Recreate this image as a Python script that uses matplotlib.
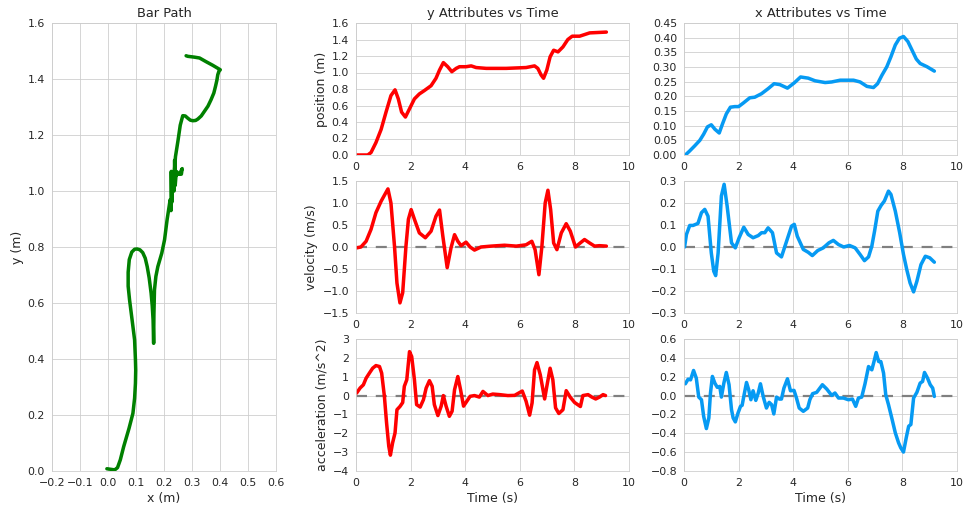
import numpy as np
import matplotlib
matplotlib.use("Agg")
import matplotlib.pyplot as plt
import seaborn as sns

# ---- y attributes (red) ----
t_ypos = [0.0, 0.43, 0.55, 0.73, 0.92, 1.10, 1.28, 1.43, 1.55, 1.67, 1.81, 1.96, 2.14, 2.32,
          2.50, 2.75, 2.93, 3.06, 3.20, 3.36, 3.51, 3.67, 3.79, 4.03, 4.22, 4.40, 4.77, 5.50,
          6.23, 6.54, 6.66, 6.78, 6.87, 6.99, 7.11, 7.24, 7.40, 7.58, 7.76, 7.92, 8.19, 8.56, 9.17]
y_pos = [0.0, 0.0, 0.03, 0.15, 0.31, 0.52, 0.72, 0.79, 0.68, 0.52, 0.46, 0.56, 0.68, 0.74,
         0.78, 0.84, 0.93, 1.03, 1.12, 1.07, 1.01, 1.05, 1.07, 1.07, 1.08, 1.06, 1.05, 1.05,
         1.06, 1.08, 1.05, 0.97, 0.93, 1.03, 1.19, 1.27, 1.25, 1.31, 1.40, 1.44, 1.44, 1.48, 1.49]

t_yvel = [0.02, 0.18, 0.37, 0.55, 0.73, 0.92, 1.08, 1.17, 1.28, 1.41, 1.50, 1.61, 1.71, 1.83,
          1.92, 2.02, 2.14, 2.32, 2.54, 2.75, 2.93, 3.06, 3.18, 3.34, 3.48, 3.61, 3.73, 3.85,
          4.03, 4.18, 4.34, 4.58, 4.95, 5.44, 5.87, 6.23, 6.44, 6.56, 6.70, 6.81, 6.93, 7.03,
          7.13, 7.24, 7.36, 7.52, 7.70, 7.85, 8.04, 8.19, 8.37, 8.56, 8.74, 8.92, 9.17]
y_vel = [-0.02, 0.0, 0.13, 0.40, 0.78, 1.04, 1.22, 1.32, 1.0, 0.02, -0.82, -1.27, -1.04, 0.02,
         0.63, 0.85, 0.63, 0.32, 0.21, 0.36, 0.70, 0.84, 0.25, -0.47, -0.02, 0.28, 0.13, 0.03,
         0.11, 0.0, -0.07, 0.0, 0.02, 0.04, 0.02, 0.05, 0.13, -0.06, -0.63, 0.02, 1.0, 1.29,
         0.85, 0.09, -0.06, 0.32, 0.53, 0.36, 0.0, 0.08, 0.17, 0.09, 0.02, 0.03, 0.02]

t_yacc = [0.02, 0.15, 0.27, 0.37, 0.49, 0.61, 0.73, 0.86, 0.94, 1.04, 1.12, 1.20, 1.26, 1.34,
          1.43, 1.50, 1.61, 1.71, 1.77, 1.86, 1.96, 2.04, 2.14, 2.22, 2.35, 2.47, 2.57, 2.69,
          2.79, 2.87, 3.00, 3.12, 3.20, 3.30, 3.42, 3.52, 3.61, 3.73, 3.83, 3.94, 4.06, 4.18,
          4.34, 4.52, 4.65, 4.83, 5.01, 5.26, 5.56, 5.81, 6.09, 6.23, 6.36, 6.45, 6.54, 6.63,
          6.75, 6.91, 6.99, 7.11, 7.21, 7.31, 7.43, 7.58, 7.70, 7.85, 8.01, 8.22, 8.31, 8.50,
          8.64, 8.78, 8.92, 9.05, 9.14]
y_acc = [0.13, 0.40, 0.57, 0.92, 1.19, 1.45, 1.59, 1.54, 1.19, -0.04, -1.45, -2.68, -3.16, -2.51,
         -1.98, -0.75, -0.58, -0.37, 0.49, 0.84, 2.33, 2.07, 0.84, -0.48, -0.61, -0.22, 0.40, 0.79,
         0.49, -0.48, -1.06, -0.56, 0.0, -0.56, -1.10, -0.83, 0.31, 1.01, 0.31, -0.56, -0.30, -0.04,
         0.0, -0.08, 0.22, 0.0, 0.08, 0.05, 0.0, 0.01, 0.24, -0.30, -1.04, -0.39, 1.36, 1.75,
         1.10, -0.18, 0.49, 1.45, 0.84, -0.65, -0.95, -0.75, 0.26, -0.09, -0.37, -0.58, 0.0, 0.05,
         -0.08, -0.18, -0.08, 0.05, 0.0]

# ---- x attributes (blue) ----
t_xpos = [0.05, 0.21, 0.39, 0.58, 0.72, 0.86, 1.00, 1.13, 1.29, 1.41, 1.55, 1.70, 1.86, 2.00,
          2.17, 2.41, 2.59, 2.84, 3.08, 3.30, 3.51, 3.79, 4.04, 4.27, 4.55, 4.80, 5.17, 5.41,
          5.72, 6.21, 6.45, 6.70, 6.94, 7.09, 7.25, 7.43, 7.58, 7.74, 7.89, 8.04, 8.20, 8.35,
          8.51, 8.65, 8.90, 9.17]
x_pos = [0.0, 0.014, 0.031, 0.050, 0.071, 0.096, 0.103, 0.088, 0.075, 0.106, 0.140, 0.163, 0.165, 0.165,
         0.177, 0.195, 0.197, 0.209, 0.226, 0.243, 0.240, 0.228, 0.246, 0.266, 0.262, 0.253, 0.247, 0.249,
         0.255, 0.255, 0.249, 0.234, 0.230, 0.243, 0.272, 0.301, 0.335, 0.375, 0.398, 0.404, 0.387, 0.358,
         0.327, 0.312, 0.301, 0.286]

t_xvel = [0.02, 0.09, 0.21, 0.33, 0.51, 0.64, 0.76, 0.88, 1.00, 1.09, 1.16, 1.25, 1.37, 1.47,
          1.58, 1.74, 1.88, 2.02, 2.19, 2.35, 2.53, 2.72, 2.84, 2.96, 3.08, 3.24, 3.39, 3.57,
          3.76, 3.94, 4.04, 4.15, 4.37, 4.55, 4.70, 4.90, 5.10, 5.31, 5.47, 5.66, 5.85, 6.06,
          6.27, 6.45, 6.61, 6.76, 6.88, 6.98, 7.10, 7.22, 7.34, 7.49, 7.58, 7.74, 7.90, 8.04,
          8.16, 8.28, 8.41, 8.53, 8.68, 8.84, 9.00, 9.17]
x_vel = [0.0, 0.057, 0.098, 0.098, 0.107, 0.156, 0.171, 0.140, -0.027, -0.110, -0.130, -0.027, 0.232, 0.285,
         0.186, 0.019, -0.004, 0.042, 0.090, 0.057, 0.042, 0.052, 0.065, 0.065, 0.087, 0.065, -0.027, -0.045,
         0.027, 0.095, 0.103, 0.049, -0.011, -0.024, -0.039, -0.016, -0.004, 0.019, 0.030, 0.011, 0.0, 0.007,
         -0.004, -0.034, -0.062, -0.045, 0.004, 0.072, 0.163, 0.189, 0.209, 0.254, 0.239, 0.163, 0.065, -0.034,
         -0.103, -0.163, -0.204, -0.156, -0.080, -0.042, -0.049, -0.069]

t_xacc = [0.05, 0.15, 0.24, 0.35, 0.45, 0.54, 0.64, 0.72, 0.82, 0.91, 0.97, 1.04, 1.13, 1.22,
          1.31, 1.37, 1.46, 1.55, 1.65, 1.74, 1.80, 1.88, 1.98, 2.07, 2.13, 2.19, 2.29, 2.37,
          2.45, 2.53, 2.63, 2.72, 2.80, 2.90, 3.02, 3.12, 3.21, 3.29, 3.39, 3.49, 3.57, 3.66,
          3.79, 3.90, 4.03, 4.12, 4.22, 4.37, 4.53, 4.61, 4.71, 4.86, 5.07, 5.23, 5.41, 5.53,
          5.66, 5.84, 6.02, 6.17, 6.29, 6.39, 6.51, 6.63, 6.76, 6.88, 6.96, 7.04, 7.13, 7.21,
          7.31, 7.39, 7.49, 7.61, 7.74, 7.86, 7.94, 8.04, 8.14, 8.23, 8.31, 8.41, 8.53, 8.65,
          8.74, 8.81, 8.92, 9.02, 9.11, 9.17]
x_acc = [0.125, 0.174, 0.167, 0.266, 0.185, -0.016, -0.044, -0.220, -0.350, -0.237, 0.027, 0.203, 0.132, 0.087,
         0.097, -0.016, 0.132, 0.245, 0.115, -0.149, -0.237, -0.279, -0.184, -0.114, -0.103, -0.009, 0.139, 0.062,
         -0.044, 0.051, -0.051, 0.027, 0.125, -0.009, -0.132, -0.072, -0.097, -0.195, -0.016, -0.037, -0.037, 0.079,
         0.178, 0.051, 0.055, -0.026, -0.132, -0.167, -0.132, -0.044, 0.020, 0.034, 0.115, 0.069, 0.002, 0.027,
         -0.026, -0.026, -0.044, -0.037, -0.114, -0.026, -0.016, 0.125, 0.308, 0.273, 0.361, 0.456, 0.361, 0.361,
         0.238, 0.009, -0.096, -0.237, -0.395, -0.501, -0.554, -0.599, -0.448, -0.325, -0.307, -0.026, 0.034, 0.132,
         0.150, 0.245, 0.185, 0.115, 0.079, -0.009]

# ---- bar path (green) ----
path_x = [-0.004, 0.024, 0.034, 0.044, 0.056, 0.075, 0.089, 0.095, 0.098, 0.099, 0.098, 0.095, 0.086,
          0.077, 0.072, 0.072, 0.076, 0.085, 0.095, 0.104, 0.114, 0.124, 0.133, 0.140, 0.147, 0.154,
          0.158, 0.161, 0.163, 0.164, 0.166, 0.171, 0.178, 0.192, 0.202, 0.211, 0.222,
          0.225, 0.226, 0.228, 0.232, 0.236, 0.238, 0.240, 0.244, 0.255, 0.265, 0.262, 0.248, 0.236,
          0.241, 0.250, 0.258, 0.267, 0.276, 0.285, 0.294, 0.303, 0.313, 0.321, 0.333, 0.344, 0.357,
          0.368, 0.378, 0.384, 0.389, 0.392, 0.396, 0.401, 0.374, 0.350, 0.327, 0.309, 0.285, 0.279]
path_y = [0.008, 0.004, 0.012, 0.040, 0.087, 0.152, 0.206, 0.260, 0.313, 0.360, 0.397, 0.468, 0.540,
          0.611, 0.660, 0.710, 0.755, 0.782, 0.792, 0.793, 0.790, 0.780, 0.760, 0.730, 0.690, 0.635,
          0.590, 0.540, 0.456, 0.560, 0.647, 0.695, 0.730, 0.778, 0.826, 0.897, 0.969,
          0.930, 1.070, 0.960, 1.060, 1.000, 1.110, 1.020, 1.070, 1.060, 1.080, 1.060, 1.060, 1.050,
          1.123, 1.180, 1.235, 1.269, 1.268, 1.260, 1.253, 1.251, 1.252, 1.257, 1.268, 1.284, 1.303,
          1.326, 1.350, 1.374, 1.396, 1.415, 1.427, 1.433, 1.449, 1.462, 1.475, 1.478, 1.481, 1.483]

RED = "#FF0000"
BLUE = "#069AF3"
GREEN = "#008000"

sns.set_style("whitegrid")
plt.rcParams.update({
    "font.size": 11,
    "axes.titlesize": 13,
    "axes.labelsize": 12.5,
    "xtick.labelsize": 11,
    "ytick.labelsize": 11,
    "text.color": ".15",
    "axes.labelcolor": ".15",
    "xtick.color": ".15",
    "ytick.color": ".15",
})


def fmt_func(fmt):
    def f(v, pos):
        s = fmt % (round(v, 6) + 0.0)
        if s.startswith("-") and float(s) == 0:
            s = s[1:]
        return s.replace("-", "\u2212")
    return matplotlib.ticker.FuncFormatter(f)


fig = plt.figure(figsize=(13.5, 515 / 72), dpi=72)

W = 972.0
H = 515.0


def box(x0, x1, y0, y1):
    return [x0 / W, 1 - y1 / H, (x1 - x0) / W, (y1 - y0) / H]


# Bar path
ax = fig.add_axes(box(52, 276, 23, 471))
ax.plot(path_x, path_y, color=GREEN, lw=3.5)
ax.set_xlim(-0.2, 0.6)
ax.set_ylim(0, 1.6)
ax.set_xticks(np.arange(-0.2, 0.61, 0.1))
ax.set_yticks(np.arange(0, 1.61, 0.2))
ax.xaxis.set_major_formatter(fmt_func("%.1f"))
ax.yaxis.set_major_formatter(fmt_func("%.1f"))
ax.set_title("Bar Path")
ax.set_xlabel("x (m)")
ax.set_ylabel("y (m)")

rows = [(23, 155), (181, 313), (339, 471)]
cols = [(356, 629), (684, 957)]

series = [
    [(t_ypos, y_pos), (t_yvel, y_vel), (t_yacc, y_acc)],
    [(t_xpos, x_pos), (t_xvel, x_vel), (t_xacc, x_acc)],
]
colors = [RED, BLUE]
ylims = [
    [(0, 1.6, 0.2, "%.1f"), (-1.5, 1.5, 0.5, "%.1f"), (-4, 3, 1, "%d")],
    [(0, 0.45, 0.05, "%.2f"), (-0.3, 0.3, 0.1, "%.1f"), (-0.8, 0.6, 0.2, "%.1f")],
]
ylabels = ["position (m)", "velocity (m/s)", "acceleration (m/s^2)"]
titles = ["y Attributes vs Time", "x Attributes vs Time"]

for c, (cx0, cx1) in enumerate(cols):
    for r, (ry0, ry1) in enumerate(rows):
        ax = fig.add_axes(box(cx0, cx1, ry0, ry1))
        t, v = series[c][r]
        if r > 0:
            ax.axhline(0, color="gray", ls="--", lw=2.2, dashes=(5, 4))
        ax.plot(t, v, color=colors[c], lw=3.5)
        lo, hi, step, fmt = ylims[c][r]
        ax.set_ylim(lo, hi)
        ax.set_yticks(np.round(np.arange(lo, hi + step / 2, step), 6))
        ax.yaxis.set_major_formatter(fmt_func(fmt))
        ax.set_xlim(0, 10)
        ax.set_xticks(range(0, 11, 2))
        if c == 0:
            ax.set_ylabel(ylabels[r])
        if r == 0:
            ax.set_title(titles[c])
        if r == 2:
            ax.set_xlabel("Time (s)")

fig.savefig("out.png", dpi=72)
